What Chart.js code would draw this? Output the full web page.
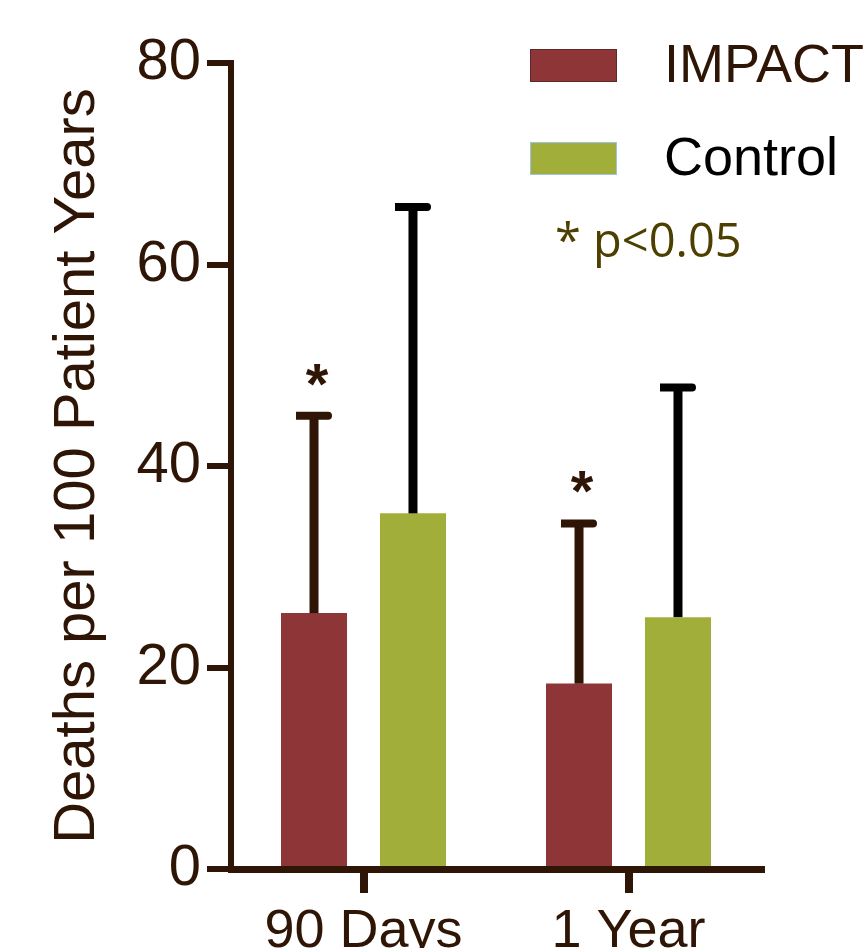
<!DOCTYPE html>
<html>
<head>
  <meta charset="utf-8">
  <script src="https://cdn.jsdelivr.net/npm/chart.js"></script>
  <style>
    body { margin: 0; background: #fff; }
    .chart-container { position: relative; width: 865px; height: 948px; }
  </style>
</head>
<body>
  <div class="chart-container">
    <canvas id="myBarChart"></canvas>
  </div>
<script>
"use strict";
const categories = ['90 Days', '1 Year'];
const seriesNames = ['IMPACT', 'Control'];
const impactValues = [25.4, 18.4];
const controlValues = [35.3, 25.0];
// upper error bar lengths
const impactErrors = [19.6, 15.9];
const controlErrors = [30.4, 22.8];
const impactSignificant = [true, true];
const yTicks = [0, 20, 40, 60, 80];
const noteText = '* p<0.05';

const brown = '#2f1505';
const impactColor = '#8e3537';
const controlColor = '#a2ae3a';
const font = 'Liberation Sans, Arial, sans-serif';

// draws the upward error bars and the significance stars
const errorBarPlugin = {
  id: 'errorBars',
  afterDatasetsDraw(chart) {
    const ctx = chart.ctx;
    const yScale = chart.scales.y;
    chart.data.datasets.forEach((ds, di) => {
      const meta = chart.getDatasetMeta(di);
      meta.data.forEach((bar, i) => {
        const top = yScale.getPixelForValue(ds.data[i]);
        const end = yScale.getPixelForValue(ds.data[i] + ds.errors[i]);
        ctx.save();
        ctx.fillStyle = ds.errorColor;
        ctx.fillRect(bar.x - 4.5, end, 9, top - end);
        ctx.beginPath();
        ctx.roundRect(bar.x - 18, end - 4, 36, 8, [0, 4, 4, 0]);
        ctx.fill();
        if (ds.significant && ds.significant[i]) {
          ctx.font = 'bold 58px ' + font;
          ctx.textAlign = 'center';
          ctx.textBaseline = 'alphabetic';
          ctx.fillText('*', bar.x + 3, end - 12);
        }
        ctx.restore();
      });
    });
  }
};

// legend in the top right corner plus the p-value note
const legendPlugin = {
  id: 'customLegend',
  afterDraw(chart) {
    const ctx = chart.ctx;
    const items = [
      { ds: chart.data.datasets[0], y: 49, border: '#5b2a28', text: brown },
      { ds: chart.data.datasets[1], y: 142, border: '#9dc3e6', text: '#000' }
    ];
    ctx.save();
    items.forEach(it => {
      ctx.fillStyle = it.ds.backgroundColor;
      ctx.fillRect(530, it.y, 87, 33);
      ctx.strokeStyle = it.border;
      ctx.lineWidth = 1;
      ctx.strokeRect(530.5, it.y + 0.5, 86, 32);
      ctx.fillStyle = it.text;
      ctx.font = '54px ' + font;
      ctx.textBaseline = 'middle';
      ctx.textAlign = 'left';
      ctx.fillText(it.ds.label, 664, it.y + 18);
    });
    ctx.fillStyle = '#4d3f00';
    ctx.font = '47px "Open Sans", sans-serif';
    ctx.textBaseline = 'middle';
    ctx.fillText(noteText, 555, 244);
    ctx.restore();
  }
};

const ctx = document.getElementById('myBarChart');
const chart = new Chart(ctx, {
  type: 'bar',
  data: {
    labels: categories,
    datasets: [{
      label: seriesNames[0],
      data: impactValues,
      errors: impactErrors,
      significant: impactSignificant,
      errorColor: brown,
      backgroundColor: impactColor,
      categoryPercentage: 0.747,
      barPercentage: 0.667
    }, {
      label: seriesNames[1],
      data: controlValues,
      errors: controlErrors,
      errorColor: '#000',
      backgroundColor: controlColor,
      categoryPercentage: 0.747,
      barPercentage: 0.667
    }]
  },
  options: {
    responsive: true,
    maintainAspectRatio: false,
    animation: false,
    layout: { padding: { left: 0, top: 63, right: 104, bottom: 0 } },
    plugins: { legend: { display: false }, tooltip: { enabled: false } },
    scales: {
      x: {
        z: 1,
        offset: true,
        afterFit(scale) { scale.height = 79; },
        grid: { offset: false, drawOnChartArea: false, tickLength: 24, lineWidth: 8, color: brown },
        border: { color: brown, width: 7 },
        ticks: { color: brown, font: { family: font, size: 54 }, padding: 7, maxRotation: 0 }
      },
      y: {
        z: 1,
        min: 0,
        max: 80,
        afterFit(scale) { scale.width = 231; },
        afterBuildTicks(scale) { scale.ticks = yTicks.map(v => ({ value: v })); },
        grid: { drawOnChartArea: false, tickLength: 24, lineWidth: 6, color: brown },
        border: { color: brown, width: 6 },
        ticks: { color: brown, font: { family: font, size: 58 }, padding: 6 },
        title: {
          display: true,
          text: 'Deaths per 100 Patient Years',
          color: brown,
          font: { family: font, size: 58, lineHeight: 1.2 },
          padding: { top: 43, bottom: 0 }
        }
      }
    }
  },
  plugins: [errorBarPlugin, legendPlugin]
});
</script>
</body>
</html>
